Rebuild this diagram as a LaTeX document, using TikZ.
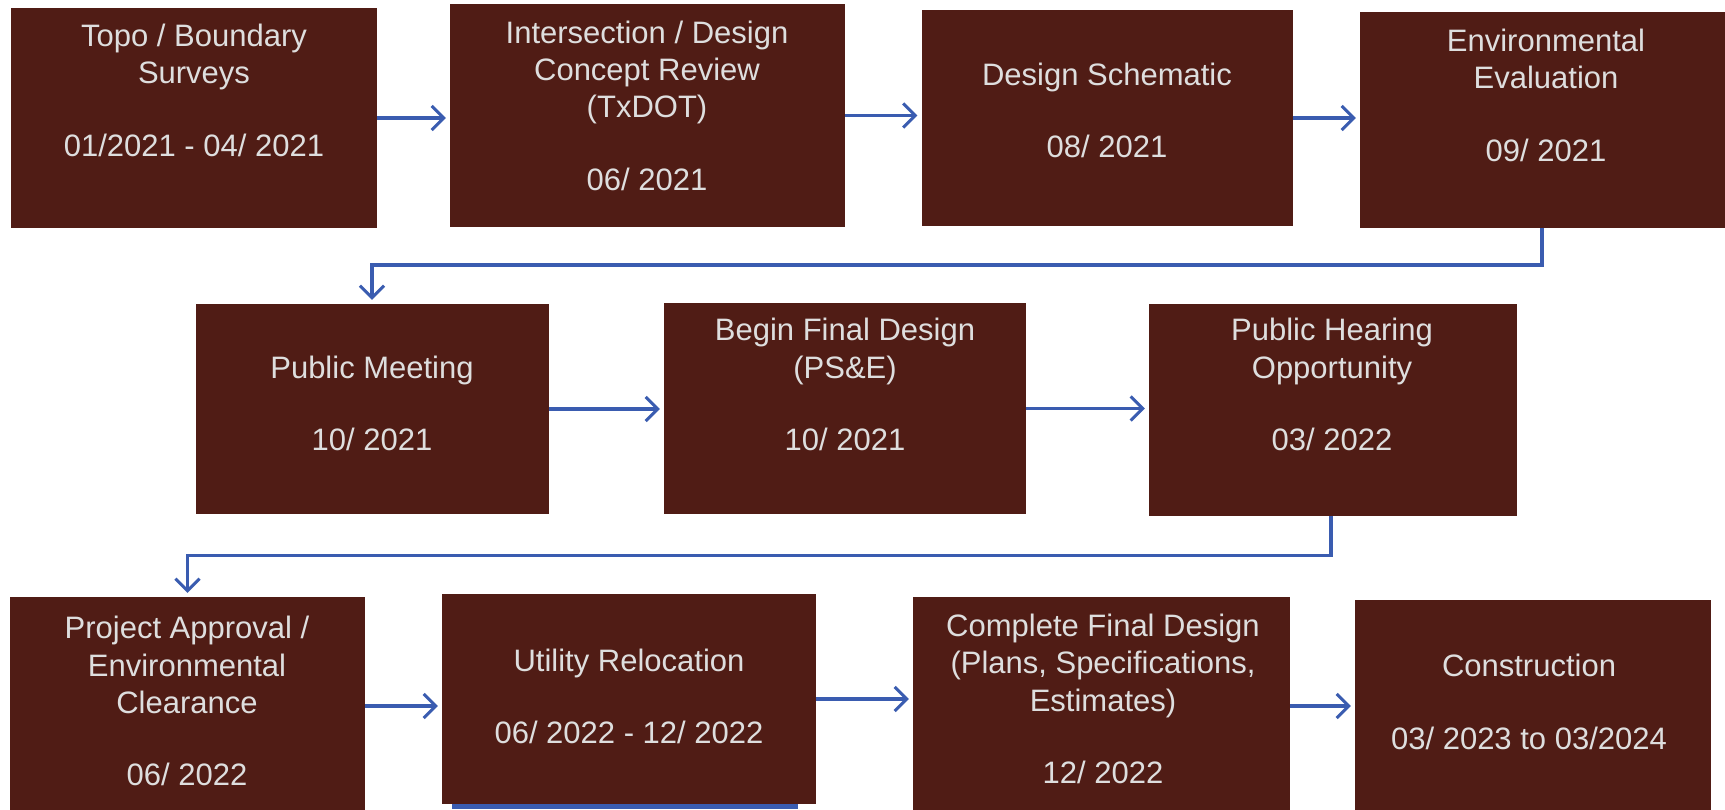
\documentclass[tikz,border=0pt]{standalone}
\usepackage{fontspec}
\setmainfont{Liberation Sans}
\usetikzlibrary{arrows.meta}
\definecolor{boxfill}{RGB}{80,28,21}
\definecolor{boxtext}{RGB}{222,222,222}
\definecolor{arrblue}{RGB}{58,92,176}
\tikzset{
  stepbox/.style={fill=boxfill, draw=none, inner sep=0pt},
  steptext/.style={text=boxtext, align=center, inner sep=0pt,
    font=\fontsize{31}{37.4}\selectfont},
  arr/.style={draw=arrblue, line width=3.2pt, -{Straight Barb[length=12pt,width=24pt,line width=3pt]}, shorten >=4pt},
}
\newcommand{\gap}{\\[35pt]}
\begin{document}
\begin{tikzpicture}[x=1pt,y=-1pt]
\useasboundingbox[fill=white] (0,0) rectangle (1725,809);
% row 1
\node[stepbox, minimum width=366pt, minimum height=220pt] (b1) at (194,118) {};
\node[stepbox, minimum width=395pt, minimum height=223pt] (b2) at (647.5,115.5) {};
\node[stepbox, minimum width=371pt, minimum height=216pt] (b3) at (1107,118) {};
\node[stepbox, minimum width=370pt, minimum height=216pt] (b4) at (1545,120) {};
% row 2
\node[stepbox, minimum width=353pt, minimum height=210pt] (b5) at (372,409) {};
\node[stepbox, minimum width=362pt, minimum height=211pt] (b6) at (845,408.5) {};
\node[stepbox, minimum width=368pt, minimum height=212pt] (b7) at (1333,410) {};
% row 3
\node[stepbox, minimum width=355pt, minimum height=218pt] (b8) at (187.5,706) {};
\node[stepbox, minimum width=374pt, minimum height=210pt] (b9) at (629,699) {};
\node[stepbox, minimum width=377pt, minimum height=218pt] (b10) at (1101.5,706) {};
\node[stepbox, minimum width=356pt, minimum height=215pt] (b11) at (1533,707.5) {};
\fill[arrblue] (452,804) rectangle (798,809);
% texts
\node[steptext] (t1) at (194,90.2) {Topo / Boundary\\Surveys\gap 01/2021 - 04/ 2021};
\node[steptext] (t2) at (647,105.6) {Intersection / Design\\Concept Review\\(TxDOT)\gap 06/ 2021};
\node[steptext] (t3) at (1107,110.6) {Design Schematic\gap 08/ 2021};
\node[steptext] (t4) at (1546,95.2) {Environmental\\Evaluation\gap 09/ 2021};
\node[steptext] (t5) at (372,403.7) {Public Meeting\gap 10/ 2021};
\node[steptext] (t6) at (845,384.5) {Begin Final Design\\(PS\&E)\gap 10/ 2021};
\node[steptext] (t7) at (1332,384.5) {Public Hearing\\Opportunity\gap 03/ 2022};
\node[steptext] (t8) at (187,701.3) {Project Approval /\\Environmental\\Clearance\gap 06/ 2022};
\node[steptext] (t9) at (629,696.4) {Utility Relocation\gap 06/ 2022 - 12/ 2022};
\node[steptext] (t10) at (1103,699.1) {Complete Final Design\\(Plans, Specifications,\\Estimates)\gap 12/ 2022};
\node[steptext] (t11) at (1529,701.9) {Construction\gap 03/ 2023 to 03/2024};
% connectors
\draw[arr] (b1.east) -- (b1.east -| b2.west);
\draw[arr] (b2.east) -- (b2.east -| b3.west);
\draw[arr] (b3.east) -- (b3.east -| b4.west);
\coordinate (k1) at (1542,265);
\draw[arr] (b4.south -| k1) -- (k1) -| (b5.north);
\draw[arr] (b5.east) -- (b5.east -| b6.west);
\draw[arr] (b6.east) -- (b6.east -| b7.west);
\coordinate (k2) at (1331,555.5);
\draw[arr] (b7.south -| k2) -- (k2) -| (b8.north);
\draw[arr] (b8.east) -- (b8.east -| b9.west);
\draw[arr] (b9.east) -- (b9.east -| b10.west);
\draw[arr] (b10.east) -- (b10.east -| b11.west);
\end{tikzpicture}
\end{document}
